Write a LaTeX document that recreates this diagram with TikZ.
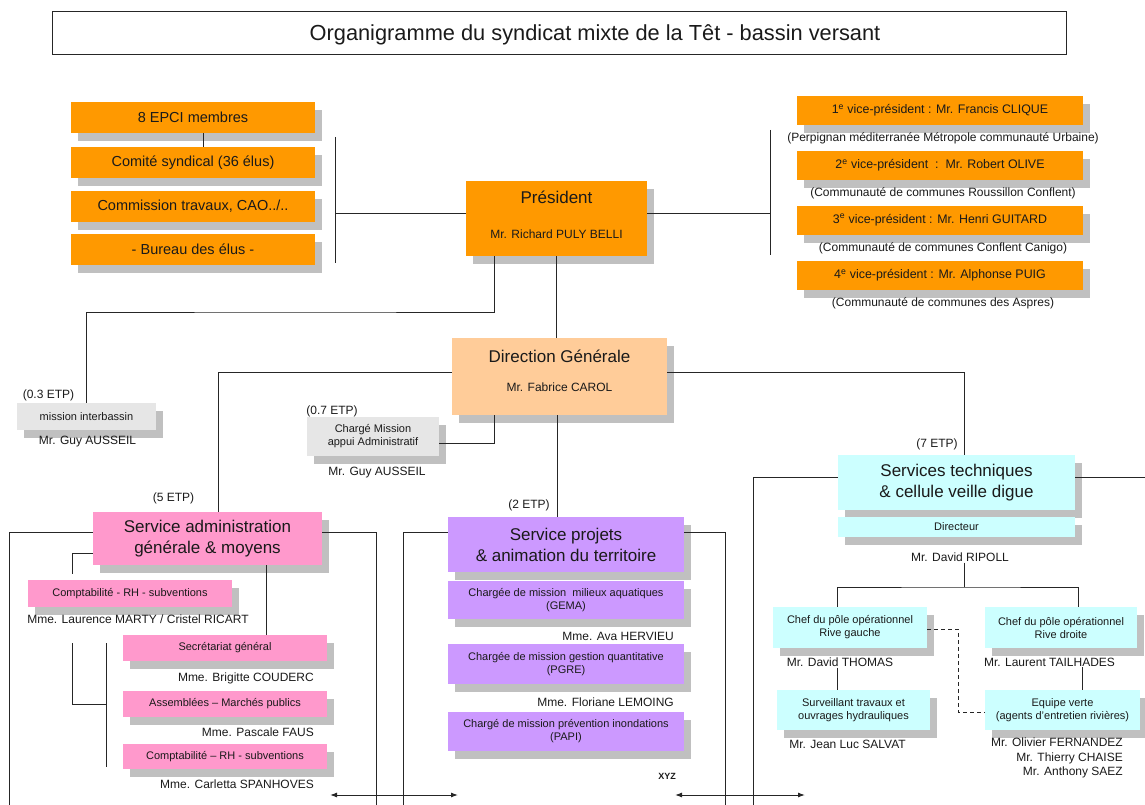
\documentclass[tikz,border=0pt]{standalone}
\usepackage{fontspec}
\setmainfont{Liberation Sans}
\usetikzlibrary{shadows,arrows.meta}
\definecolor{fondorange}{HTML}{FF9900}
\definecolor{fondpeche}{HTML}{FFCC99}
\definecolor{fondrose}{HTML}{FF99CC}
\definecolor{fondmauve}{HTML}{CC99FF}
\definecolor{fondcyan}{HTML}{CCFFFF}
\definecolor{fondgris}{HTML}{E6E6E6}
\definecolor{grisombre}{HTML}{C0C0C0}
\definecolor{trait}{HTML}{262626}
\definecolor{texte}{HTML}{1A1A1A}
\newcommand{\taille}[2]{\fontsize{#1}{#2}\selectfont}
\tikzset{
    ombre/.style={
        drop shadow={shadow xshift=7pt,shadow yshift=-8pt,fill=grisombre,opacity=1}
    },
    boite/.style={ombre,inner sep=0pt,align=center,text=texte},
    organe/.style={boite,fill=fondorange,minimum width=244pt,minimum height=31pt,font=\taille{14.5}{17}},
    vicepres/.style={boite,fill=fondorange,minimum width=286pt,minimum height=29pt,font=\taille{12.4}{15}},
    service/.style={boite,font=\taille{17}{21}},
    poste/.style={boite,font=\taille{11}{13}},
    nom/.style={inner sep=1pt,font=\taille{12}{14.5},text=texte},
    lien/.style={draw=trait,line width=1pt},
    fleche/.style={lien,>={Latex[length=7pt,width=5pt]},<->}
}
\begin{document}
\begin{tikzpicture}[x=1pt,y=-1pt]
\useasboundingbox (0,0) rectangle (1145,805);

% titre
\node[draw=trait,line width=1pt,minimum width=1014pt,minimum height=43pt,inner sep=0pt] (cadre) at (559,33.5) {};
\node[font=\taille{21.8}{25},text=texte] (titre) at (595,35) {Organigramme du syndicat mixte de la Têt - bassin versant};

% elus
\node[organe] (epci) at (193,117.5) {8 EPCI membres};
\node[organe] (comite) at (193,162.5) {Comité syndical (36 élus)};
\node[organe] (commission) at (193,206.5) {Commission travaux, CAO../..};
\node[organe] (bureau) at (193,249.5) {- Bureau des élus -};

% president
\node[boite,fill=fondorange,minimum width=181pt,minimum height=75pt] (president) at (556.5,218.5) {};
\node[font=\taille{17}{20},text=texte] (presidenttitre) at ([yshift=21.5pt]president.center) {Président};
\node[nom] (presidentnom) at ([yshift=-15.5pt]president.center) {Mr. Richard PULY BELLI};

% vice-presidents
\node[vicepres] (vp1) at (940,110.5) {1\textsuperscript{e} vice-président : Mr. Francis CLIQUE};
\node[nom] (vp1commune) at (943,138) {(Perpignan méditerranée Métropole communauté Urbaine)};
\node[vicepres] (vp2) at (940,165.5) {2\textsuperscript{e} vice-président~~:~~Mr. Robert OLIVE};
\node[nom] (vp2commune) at (943,193) {(Communauté de communes Roussillon Conflent)};
\node[vicepres] (vp3) at (940,220) {3\textsuperscript{e} vice-président : Mr. Henri GUITARD};
\node[nom] (vp3commune) at (943,248) {(Communauté de communes Conflent Canigo)};
\node[vicepres] (vp4) at (940,275.5) {4\textsuperscript{e} vice-président : Mr. Alphonse PUIG};
\node[nom] (vp4commune) at (943,303) {(Communauté de communes des Aspres)};

% direction
\node[boite,fill=fondpeche,minimum width=215pt,minimum height=77pt] (direction) at (559.5,376.5) {};
\node[font=\taille{17}{20},text=texte] (directiontitre) at ([yshift=20.5pt]direction.center) {Direction Générale};
\node[nom] (directionnom) at ([yshift=-10.5pt]direction.center) {Mr. Fabrice CAROL};

% missions
\node[poste,fill=fondgris,minimum width=139pt,minimum height=27pt] (interbassin) at (86.5,416.5) {mission interbassin};
\node[nom] (etp03) at (48.5,395) {(0.3 ETP)};
\node[nom] (ausseila) at (87.5,442) {Mr. Guy AUSSEIL};
\node[poste,fill=fondgris,minimum width=132pt,minimum height=39pt] (appui) at (373,436.5) {Chargé Mission\\appui Administratif};
\node[nom] (etp07) at (332,411) {(0.7 ETP)};
\node[nom] (ausseilb) at (377,473) {Mr. Guy AUSSEIL};

% service administration
\node[service,fill=fondrose,minimum width=229pt,minimum height=53pt] (admin) at (207.5,538.5) {Service administration\\générale \& moyens};
\node[nom] (etp5) at (173.5,498) {(5 ETP)};
\node[poste,fill=fondrose,minimum width=204pt,minimum height=27pt] (compta) at (130,593.5) {Comptabilité - RH - subventions};
\node[nom] (marty) at (138,619) {Mme. Laurence MARTY / Cristel RICART};
\node[poste,fill=fondrose,minimum width=204pt,minimum height=26pt] (secretariat) at (225,648) {Secrétariat général};
\node[nom,anchor=east] (couderc) at (315,678) {Mme. Brigitte COUDERC};
\node[poste,fill=fondrose,minimum width=204pt,minimum height=26pt] (assemblees) at (225,704) {Assemblées – Marchés publics};
\node[nom,anchor=east] (faus) at (315,732) {Mme. Pascale FAUS};
\node[poste,fill=fondrose,minimum width=204pt,minimum height=25pt] (comptab) at (225,756.5) {Comptabilité – RH - subventions};
\node[nom,anchor=east] (spanhoves) at (315,784) {Mme. Carletta SPANHOVES};

% service projets
\node[service,fill=fondmauve,minimum width=236pt,minimum height=55pt] (projets) at (566,544.5) {Service projets\\\& animation du territoire};
\node[nom] (etp2) at (529,505) {(2 ETP)};
\node[poste,fill=fondmauve,minimum width=236pt,minimum height=38pt] (gema) at (566,600) {Chargée de mission~~milieux aquatiques\\(GEMA)};
\node[nom,anchor=east] (hervieu) at (675,636) {Mme. Ava HERVIEU};
\node[poste,fill=fondmauve,minimum width=236pt,minimum height=40pt] (pgre) at (566,664) {Chargée de mission gestion quantitative\\(PGRE)};
\node[nom,anchor=east] (lemoing) at (675,702) {Mme. Floriane LEMOING};
\node[poste,fill=fondmauve,minimum width=236pt,minimum height=39pt] (papi) at (566,731.5) {Chargé de mission prévention inondations\\(PAPI)};
\node[font=\bfseries\taille{9}{11},text=texte] (xyz) at (667,776) {XYZ};

% services techniques
\node[service,fill=fondcyan,minimum width=237pt,minimum height=55pt] (techniques) at (956.5,482.5) {Services techniques\\\& cellule veille digue};
\node[poste,fill=fondcyan,minimum width=237pt,minimum height=20pt] (directeur) at (956.5,527) {Directeur};
\node[nom] (etp7) at (937,444) {(7 ETP)};
\node[nom] (ripoll) at (960,557) {Mr. David RIPOLL};
\node[poste,fill=fondcyan,minimum width=154pt,minimum height=41pt] (polegauche) at (850,627.5) {Chef du pôle opérationnel\\Rive gauche};
\node[nom] (thomas) at (840,662) {Mr. David THOMAS};
\node[poste,fill=fondcyan,minimum width=152pt,minimum height=41pt] (poledroite) at (1061,627.5) {Chef du pôle opérationnel\\Rive droite};
\node[nom] (tailhades) at (1049.5,662) {Mr. Laurent TAILHADES};
\node[poste,fill=fondcyan,minimum width=153pt,minimum height=40pt] (surveillant) at (853.5,710) {Surveillant travaux et\\ouvrages hydrauliques};
\node[nom] (salvat) at (847.5,744) {Mr. Jean Luc SALVAT};
\node[poste,fill=fondcyan,minimum width=155pt,minimum height=40pt] (equipe) at (1062.5,710) {Equipe verte\\(agents d'entretien rivières)};
\node[nom,align=right,anchor=north east] (agents) at (1124,737) {Mr. Olivier FERNANDEZ\\Mr. Thierry CHAISE\\Mr. Anthony SAEZ};

% liens
\coordinate (gh) at (335,137);
\coordinate (gb) at (335,263);
\coordinate (gm) at (335,213);
\coordinate (dh) at (770,130);
\coordinate (db) at (770,255);
\coordinate (dm) at (770,213);
\coordinate (coude) at (300,312);
\draw[lien] ([xshift=10pt]epci.south) -- ([xshift=10pt]comite.north);
\draw[lien] (gh) -- (gb);
\draw[lien] (gm) -- (gm -| president.west);
\draw[lien] (dh) -- (db);
\draw[lien] (dm -| president.east) -- (dm);
\draw[lien] (president.south) -- ([xshift=-3pt]direction.north);
\draw[lien] ([xshift=-62.5pt]president.south) |- (coude) -| (interbassin.north);
\draw[lien] ([yshift=4.5pt]direction.west) -| ([xshift=10.5pt]admin.north);
\draw[lien] ([yshift=4.5pt]direction.east) -| ([xshift=8pt]techniques.north);
\draw[lien] ([xshift=-2.5pt]direction.south) -- ([xshift=-9pt]projets.north);
\draw[lien] ([xshift=-65.5pt]direction.south) |- ([yshift=-6.5pt]appui.east);

% cadres des services
\coordinate (abas) at (9,805);
\coordinate (adbas) at (376,805);
\coordinate (pbas) at (403,805);
\coordinate (pdbas) at (725,805);
\coordinate (tbas) at (753,805);
\coordinate (tdroite) at (1145,477);
\draw[lien] ([yshift=6.5pt]admin.west) -| (abas);
\draw[lien] ([yshift=6.5pt]admin.east) -| (adbas);
\draw[lien] ([yshift=12.5pt]projets.west) -| (pbas);
\draw[lien] ([yshift=12.5pt]projets.east) -| (pdbas);
\draw[lien] ([yshift=5.5pt]techniques.west) -| (tbas);
\draw[lien] ([yshift=5.5pt]techniques.east) -- (tdroite);

% administration
\coordinate (ca) at (72,643);
\coordinate (cb) at (106,704);
\coordinate (cc) at (106,643);
\coordinate (cd) at (106,767);
\draw[lien] ([yshift=-14.5pt]admin.west) -| ([xshift=-58pt,yshift=6pt]compta.north);
\draw[lien] ([xshift=58.5pt]admin.south) -- ([xshift=41pt]secretariat.north);
\draw[lien] (ca) |- (cb);
\draw[lien] (cc) -- (cd);

% techniques
\coordinate (rc) at (964,587);
\coordinate (tiret) at (958,670);
\draw[lien] (ripoll.south -| rc) -- (rc);
\draw[lien] ([xshift=-13pt]polegauche.north) |- (rc) -| ([xshift=17pt]poledroite.north);
\draw[lien] ([xshift=-3pt]thomas.south) -- ([xshift=-16.5pt]surveillant.north);
\draw[lien] ([xshift=19.5pt]equipe.north) -- ([xshift=32.5pt]tailhades.south);
\draw[lien,dash pattern=on 4pt off 3pt] ([yshift=-1.5pt]polegauche.east) -| (tiret) |- ([yshift=-2pt]equipe.west);

% fleches
\coordinate (fa) at (330,795);
\coordinate (fb) at (458,795);
\coordinate (fc) at (675,795);
\coordinate (fd) at (805,795);
\draw[fleche] (fa) -- (fb);
\draw[fleche] (fc) -- (fd);
\end{tikzpicture}
\end{document}
